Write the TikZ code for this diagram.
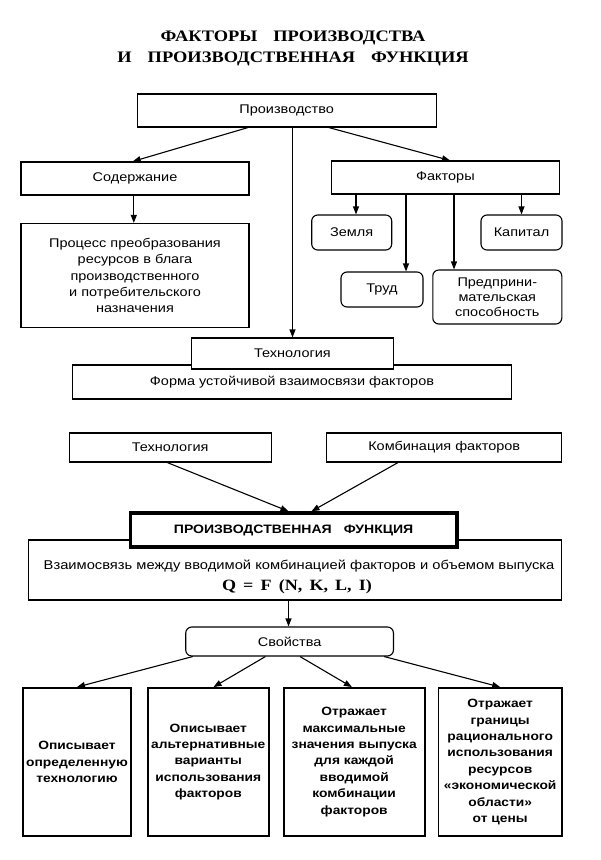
\documentclass[tikz,border=0pt]{standalone}
\usepackage{fontspec}
\setmainfont[FakeStretch=1.15]{Liberation Sans}
\newfontfamily\titlefont[FakeStretch=1.15]{Liberation Serif}
\usetikzlibrary{arrows.meta}
\tikzset{
  x=1pt, y=-1pt,
  box/.style={draw, line width=1.1pt, fill=white, inner sep=2pt, align=center,
    font=\fontsize{12.6}{16.3}\selectfont},
  rbox/.style={box, rounded corners=6pt},
  bbox/.style={draw, line width=1.9pt, fill=white, inner sep=2pt, align=center,
    font=\fontsize{12}{16.4}\selectfont\bfseries},
  pfbox/.style={draw, line width=3.4pt, fill=white, inner sep=2pt, align=center,
    font=\fontsize{12.2}{14}\selectfont\bfseries},
  txt/.style={inner sep=0pt, font=\fontsize{12.8}{16}\selectfont},
  arr/.style={line width=1.1pt, -{Triangle[length=8pt,width=6pt]}},
  ttl/.style={font=\titlefont\fontsize{16}{18}\selectfont\bfseries},
}
\begin{document}
\begin{tikzpicture}
\useasboundingbox (0,0) rectangle (601,860);
% title
\node[ttl] (t1) at (293,38) {ФАКТОРЫ\quad ПРОИЗВОДСТВА};
\node[ttl] (t2) at (293,59) {И\quad ПРОИЗВОДСТВЕННАЯ\quad ФУНКЦИЯ};
% top part
\node[box, minimum width=299, minimum height=33] (prod) at (286.7,110.5) {Производство};
\node[box, minimum width=228, minimum height=33] (sod) at (135,178.5) {Содержание};
\node[box, minimum width=228, minimum height=33] (fak) at (445.4,177.5) {Факторы};
\node[box, minimum width=228, minimum height=104] (proc) at (135,275.5)
  {Процесс преобразования\\ресурсов в блага\\производственного\\и потребительского\\назначения};
\node[rbox, minimum width=80, minimum height=35] (zem) at (351.7,232.5) {Земля};
\node[rbox, minimum width=81, minimum height=35] (kap) at (521.5,232.5) {Капитал};
\node[rbox, minimum width=82, minimum height=35] (trud) at (382,289.5) {Труд};
\node[rbox, minimum width=129, minimum height=54, font=\fontsize{12.6}{15}\selectfont] (pred) at (497.3,297)
  {Предприни-\\мательская\\способность};
\node[box, minimum width=438.5, minimum height=34] (forma) at (292,382)
  {Форма устойчивой взаимосвязи факторов};
\node[box, minimum width=202, minimum height=31] (tech1) at (292.5,353.5) {Технология};
% middle part
\node[box, minimum width=202, minimum height=29] (tech2) at (170.2,447.5) {Технология};
\node[box, minimum width=235.4, minimum height=29] (komb) at (444.2,447.5) {Комбинация факторов};
\node[box, minimum width=533, minimum height=60] (vz) at (295.4,570) {};
\node[txt] (vzt) at (299,566)
  {Взаимосвязь между вводимой комбинацией факторов и объемом выпуска};
\node[txt, font=\titlefont\fontsize{15.7}{16}\selectfont\bfseries] (vzf) at (297,587)
  {Q\, =\, F\, (N,\, K,\, L,\, I)};
\node[pfbox, minimum width=326.5, minimum height=34] (pf) at (293.6,530)
  {ПРОИЗВОДСТВЕННАЯ\quad ФУНКЦИЯ};
% bottom part
\node[rbox, minimum width=207.7, minimum height=29] (sv) at (289.6,641.5) {Свойства};
\node[bbox, minimum width=108, minimum height=148] (b1) at (77,762)
  {Описывает\\определенную\\технологию};
\node[bbox, minimum width=121, minimum height=148] (b2) at (208.3,762)
  {Описывает\\альтернативные\\варианты\\использования\\факторов};
\node[bbox, minimum width=140.8, minimum height=148] (b3) at (354.2,762)
  {Отражает\\максимальные\\значения выпуска\\для каждой\\вводимой\\комбинации\\факторов};
\node[bbox, minimum width=123.4, minimum height=148] (b4) at (500.2,762)
  {Отражает\\границы\\рационального\\использования\\ресурсов\\«экономической\\области»\\от цены};
% connectors
\draw[arr] ([xshift=-38.7]prod.south) -- ([xshift=-2.3]sod.north);
\draw[arr] ([xshift=42.1]prod.south) -- ([xshift=4.6]fak.north);
\draw[arr] (prod.south -| tech1.north) -- (tech1.north);
\draw[arr] ([xshift=-1.2]sod.south) -- ([xshift=-1.2]proc.north);
\draw[arr] ([xshift=4.3]zem.north |- fak.south) -- ([xshift=4.3]zem.north);
\draw[arr] (fak.south -| kap.north) -- (kap.north);
\draw[arr] ([xshift=24]trud.north |- fak.south) -- ([xshift=24]trud.north);
\draw[arr] ([xshift=-43.3]pred.north |- fak.south) -- ([xshift=-43.3]pred.north);
\draw[arr] ([xshift=-2.9]tech2.south) -- ([xshift=-5.1]pf.north);
\draw[arr] ([xshift=-46.2]komb.south) -- ([xshift=17.9]pf.north);
\draw[arr] ([xshift=-1.1]sv.north |- vz.south) -- ([xshift=-1.1]sv.north);
\draw[arr] ([xshift=-96.9]sv.south) -- (b1.north);
\draw[arr] ([xshift=-24.2]sv.south) -- ([xshift=5.2]b2.north);
\draw[arr] ([xshift=10.4]sv.south) -- ([xshift=-2.3]b3.north);
\draw[arr] ([xshift=94.6]sv.south) -- (b4.north);
\end{tikzpicture}
\end{document}
